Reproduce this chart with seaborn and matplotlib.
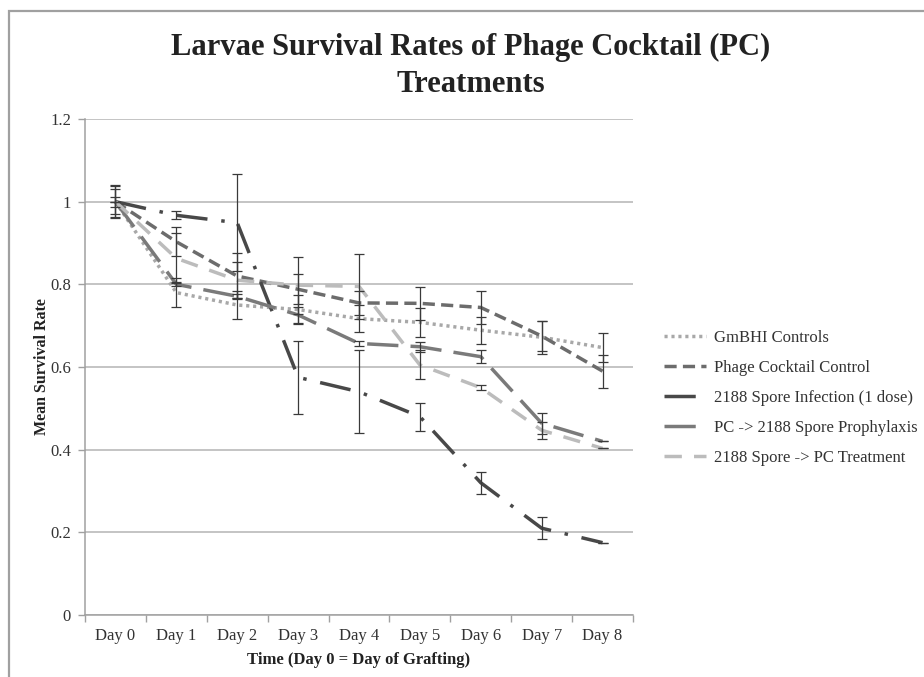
#!/usr/bin/env python3
import pandas as pd
import numpy as np
import seaborn as sns
import matplotlib.pyplot as plt
from matplotlib.patches import Rectangle
from matplotlib.ticker import FixedLocator

sns.set_theme(style="whitegrid")
plt.rcParams["font.family"] = ["Liberation Serif", "DejaVu Serif"]

# ---- data ----
days = ["Day 0", "Day 1", "Day 2", "Day 3", "Day 4", "Day 5", "Day 6", "Day 7", "Day 8"]

series_names = ["GmBHI Controls", "Phage Cocktail Control", "2188 Spore Infection (1 dose)",
                "PC -> 2188 Spore Prophylaxis", "2188 Spore -> PC Treatment"]

gmbhi = [1.0, 0.78, 0.75, 0.739, 0.717, 0.708, 0.689, 0.672, 0.647]
gmbhi_err = [0.03, 0.035, 0.034, 0.035, 0.032, 0.035, 0.033, 0.04, 0.035]

phage = [1.0, 0.903, 0.82, 0.788, 0.755, 0.754, 0.744, 0.675, 0.59]
phage_err = [0.037, 0.035, 0.056, 0.036, 0.03, 0.04, 0.04, 0.037, 0.04]

infection = [1.0, 0.967, 0.949, 0.575, 0.54, 0.48, 0.32, 0.21, 0.175]
infection_err = [0.0, 0.01, 0.117, 0.088, 0.10, 0.034, 0.027, 0.027, 0.0]

prophylaxis = [1.0, 0.80, 0.771, 0.726, 0.657, 0.649, 0.625, 0.464, 0.42]
prophylaxis_err = [0.04, 0.005, 0.005, 0.02, 0.007, 0.012, 0.015, 0.025, 0.0]

treatment = [1.0, 0.863, 0.81, 0.798, 0.795, 0.605, 0.55, 0.447, 0.403]
treatment_err = [0.012, 0.06, 0.044, 0.069, 0.078, 0.035, 0.006, 0.02, 0.0]

values = [gmbhi, phage, infection, prophylaxis, treatment]
errors = [gmbhi_err, phage_err, infection_err, prophylaxis_err, treatment_err]

colors = {series_names[0]: "#a8a8a8", series_names[1]: "#6c6c6c", series_names[2]: "#484848",
          series_names[3]: "#7a7a7a", series_names[4]: "#bcbcbc"}
dashes = {series_names[0]: (0.9, 1.1), series_names[1]: (3.5, 1.8), series_names[2]: (9, 4, 1, 4),
          series_names[3]: (9, 3.5), series_names[4]: (5, 3.5)}

df = pd.concat([pd.DataFrame({"day": days, "rate": v, "group": n}) for n, v in zip(series_names, values)],
               ignore_index=True)

fig = plt.figure(figsize=(9.24, 6.77), dpi=100)
ax = fig.add_axes([85/924, 62/677, 548/924, 496/677])

sns.lineplot(data=df, x="day", y="rate", hue="group", style="group", hue_order=series_names,
             style_order=series_names, palette=colors, dashes=dashes, linewidth=2.5, sort=False, ax=ax)

for v, e in zip(values, errors):
    ax.errorbar(days, v, yerr=e, fmt="none", ecolor="#3a3a3a", elinewidth=0.9, capsize=3.5, capthick=0.9, zorder=3)

ax.set_ylim(0, 1.2)
ax.set_xlim(-0.5, 8.5)
ax.set_yticks(np.arange(0, 1.21, 0.2))
ax.set_yticklabels(["0", "0.2", "0.4", "0.6", "0.8", "1", "1.2"])
ax.xaxis.set_minor_locator(FixedLocator(np.arange(-0.5, 8.6, 1)))
ax.tick_params(axis="x", which="major", length=0, labelsize=12, pad=9, colors="#333333")
ax.tick_params(axis="x", which="minor", length=5, width=1, color="#a0a0a0", bottom=True)
ax.tick_params(axis="y", which="major", length=5, width=1, color="#a0a0a0", labelsize=12, left=True, pad=5,
               labelcolor="#333333")
ax.grid(axis="y", color="#b4b4b4", linewidth=1.1)
ax.grid(axis="x", visible=False)
for s in ["top", "right"]:
    ax.spines[s].set_visible(False)
for s in ["left", "bottom"]:
    ax.spines[s].set_color("#a0a0a0")
    ax.spines[s].set_linewidth(1.1)

ax.set_xlabel("Time (Day 0 = Day of Grafting)", fontsize=12, fontweight="bold", color="#222222", labelpad=6)
ax.set_ylabel("Mean Survival Rate", fontsize=11.5, fontweight="bold", color="#222222", labelpad=0)

sns.move_legend(ax, "center left", bbox_to_anchor=(1.03, 0.437), frameon=False, title=None,
                fontsize=12, handlelength=2.5, handletextpad=0.5, labelspacing=0.84)
for t in ax.get_legend().get_texts():
    t.set_color("#333333")

fig.text(0.509, 0.903, "Larvae Survival Rates of Phage Cocktail (PC)\nTreatments", ha="center", va="center",
         fontsize=22, fontweight="bold", color="#222222", linespacing=1.36)

fig.patches.append(Rectangle((9/924, -0.1), 1.2, 0.1 + 1 - 11/677, transform=fig.transFigure,
                             fill=False, edgecolor="#a0a0a0", linewidth=1.6))

plt.savefig("out.png", dpi=100)
